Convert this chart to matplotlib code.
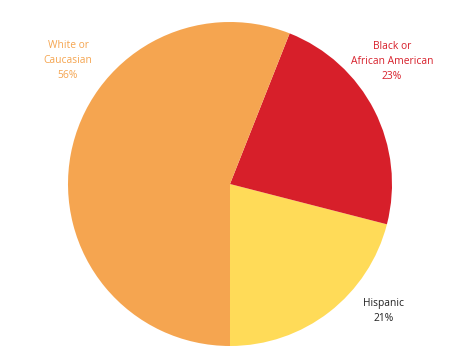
import matplotlib
matplotlib.use("Agg")
import matplotlib.pyplot as plt

categories = ["Hispanic", "Black or\nAfrican American", "White or\nCaucasian"]
values = [21, 23, 56]
colors = ["#FFDB58", "#D71F2A", "#F5A550"]
label_colors = ["#222222", "#D71F2A", "#F5A550"]
label_pos = [(0.95, -0.785), (1.0, 0.755), (-1.0, 0.765)]

W, H = 450, 354
fig = plt.figure(figsize=(W / 100, H / 100), dpi=100)
cx, cy, r = 230, 184, 162
ax = fig.add_axes([(cx - r) / W, (H - cy - r) / H, 2 * r / W, 2 * r / H])
ax.pie(values, colors=colors, startangle=-90, counterclock=True, radius=1,
       wedgeprops=dict(linewidth=0))
ax.set_xlim(-1, 1)
ax.set_ylim(-1, 1)
ax.set_aspect("auto")
ax.axis("off")
ax.set_clip_on(False)

for cat, v, c, (x, y) in zip(categories, values, label_colors, label_pos):
    ax.text(x, y, f"{cat}\n{v}%", ha="center", va="center", color=c,
            fontsize=7.4, family="Open Sans", linespacing=1.5, clip_on=False)

fig.savefig("out.png", dpi=100)
